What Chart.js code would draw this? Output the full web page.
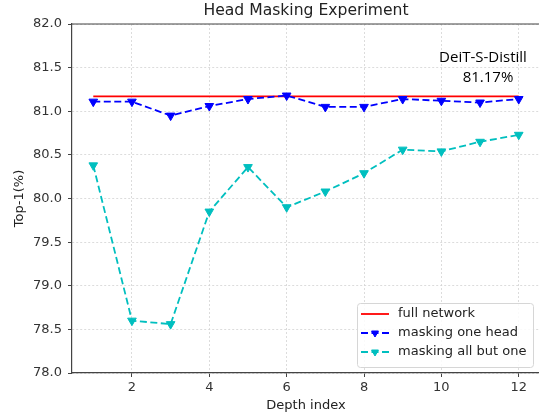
<!DOCTYPE html>
<html>
<head>
<meta charset="utf-8">
<script src="https://cdn.jsdelivr.net/npm/chart.js@4/dist/chart.umd.min.js"></script>
<style>
  html, body { margin: 0; padding: 0; background: #fff; }
  #wrap { width: 539px; height: 412px; overflow: hidden; position: relative; }
  #chart { display: block; }
</style>
</head>
<body>
<div id="wrap"><canvas id="chart" width="546" height="412"></canvas></div>
<script>
const depth = [1, 2, 3, 4, 5, 6, 7, 8, 9, 10, 11, 12];
const oneHead = [81.11, 81.11, 80.95, 81.06, 81.14, 81.18, 81.05, 81.05, 81.14, 81.12, 81.10, 81.14];
const allButOne = [80.38, 78.60, 78.56, 79.85, 80.36, 79.90, 80.08, 80.29, 80.56, 80.54, 80.65, 80.73];
const fullX = [1, 12];
const fullY = [81.17, 81.17];
const xTicks = [2, 4, 6, 8, 10, 12];
const labels = ["full network", "masking one head", "masking all but one"];

const pts = (xs, ys) => xs.map((x, i) => ({ x: x, y: ys[i] }));
const tickFont = { family: "DejaVu Sans", size: 13 };

// titles, annotation, top spine and the legend box
const extras = {
  id: "extras",
  afterDraw(chart) {
    const c = chart.ctx;
    const a = chart.chartArea;
    c.save();
    c.strokeStyle = "#444";
    c.lineWidth = 1.2;
    c.beginPath();
    c.moveTo(a.left, a.top);
    c.lineTo(a.right, a.top);
    c.stroke();

    c.fillStyle = "#222";
    c.textAlign = "center";
    c.textBaseline = "middle";
    c.font = "15.6px 'DejaVu Sans'";
    c.fillText("Head Masking Experiment", (a.left + a.right) / 2, 11);
    c.font = "13px 'DejaVu Sans'";
    c.fillText("Depth index", (a.left + a.right) / 2, 406);
    c.save();
    c.translate(20, (a.top + a.bottom) / 2);
    c.rotate(-Math.PI / 2);
    c.fillText("Top-1(%)", 0, 0);
    c.restore();

    c.fillStyle = "#000";
    c.font = "15px 'Open Sans'";
    c.fillText("DeiT-S-Distill", 483, 58);
    c.fillText("81.17%", 488, 78);

    // legend
    const bx = 357, by = 303, bw = 176, bh = 64;
    c.fillStyle = "rgba(255,255,255,0.85)";
    c.strokeStyle = "#d6d6d6";
    c.lineWidth = 1;
    c.beginPath();
    c.roundRect(bx + 0.5, by + 0.5, bw, bh, 3);
    c.fill();
    c.stroke();
    const rows = [314, 333, 352];
    chart.data.datasets.forEach((ds, i) => {
      const y = rows[i];
      c.strokeStyle = ds.borderColor;
      c.lineWidth = ds.borderWidth;
      c.setLineDash(ds.borderDash || []);
      c.beginPath();
      c.moveTo(361, y);
      c.lineTo(389, y);
      c.stroke();
      c.setLineDash([]);
      if (ds.pointRadius > 0) {
        c.fillStyle = ds.pointBackgroundColor;
        c.strokeStyle = ds.pointBorderColor;
        c.lineWidth = 1;
        Chart.helpers.drawPoint(c, {
          pointStyle: "triangle", rotation: 180, radius: 4, borderWidth: 1
        }, 375, y);
      }
      c.fillStyle = "#222";
      c.textAlign = "left";
      c.font = "13px 'DejaVu Sans'";
      c.fillText(labels[i], 398, y);
    });
    c.restore();
  }
};

const gridOpts = {
  color: "#d4d4d4", lineWidth: 0.8,
  tickLength: 4, tickColor: "#444", tickBorderDash: [], tickWidth: 1
};

new Chart(document.getElementById("chart"), {
  type: "line",
  data: {
    datasets: [
      {
        label: labels[0],
        data: pts(fullX, fullY),
        borderColor: "#ff0000",
        borderWidth: 1.8,
        pointRadius: 0,
        order: 3
      },
      {
        label: labels[1],
        data: pts(depth, oneHead),
        borderColor: "#0000ff",
        borderWidth: 1.8,
        borderDash: [7, 3.5],
        pointStyle: "triangle",
        rotation: 180,
        pointRadius: 5,
        pointBackgroundColor: "#0000ff",
        pointBorderColor: "#0000ff",
        pointBorderWidth: 1,
        order: 2
      },
      {
        label: labels[2],
        data: pts(depth, allButOne),
        borderColor: "#00bfbf",
        borderWidth: 1.8,
        borderDash: [7, 3.5],
        pointStyle: "triangle",
        rotation: 180,
        pointRadius: 5,
        pointBackgroundColor: "#00bfbf",
        pointBorderColor: "#00bfbf",
        pointBorderWidth: 1,
        order: 1
      }
    ]
  },
  options: {
    responsive: false,
    animation: false,
    layout: { padding: { top: 24, right: 6, left: 0, bottom: 0 } },
    plugins: { legend: { display: false }, title: { display: false }, tooltip: { enabled: false } },
    scales: {
      x: {
        type: "linear",
        min: 0.45,
        max: 12.55,
        afterBuildTicks: s => { s.ticks = xTicks.map(v => ({ value: v })); },
        afterFit: s => { s.height = 39; },
        ticks: { font: tickFont, color: "#333", padding: 3 },
        grid: gridOpts,
        border: { display: true, color: "#444", width: 1.2, dash: [2, 2] }
      },
      y: {
        min: 78,
        max: 82,
        afterFit: s => { s.width = 72; },
        ticks: { stepSize: 0.5, font: tickFont, color: "#333", padding: 6, callback: v => v.toFixed(1) },
        grid: gridOpts,
        border: { display: true, color: "#444", width: 1.2, dash: [2, 2] }
      }
    }
  },
  plugins: [extras]
});
</script>
</body>
</html>
